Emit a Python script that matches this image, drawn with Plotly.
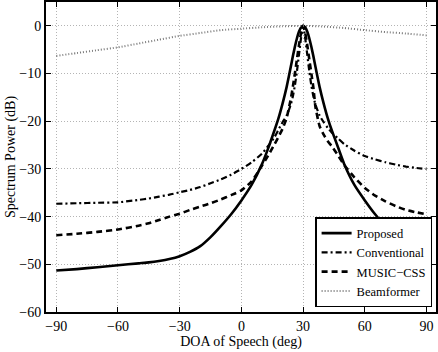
import plotly.graph_objects as go

# DOA grid (deg) for the three spectra
doa = [-90, -80, -70, -60, -50, -45, -40, -35, -30, -25, -20, -15, -10, -5, 0, 5, 10, 13, 16,
       18, 20, 22, 24, 25, 26, 27, 28, 29, 30, 31, 32, 33, 34, 35, 36, 38, 40, 42, 44, 47, 50,
       55, 60, 65, 70, 75, 80, 85, 90]

proposed = [-51.3, -51.0, -50.6, -50.2, -49.8, -49.6, -49.3, -48.9, -48.3, -47.4, -46.2, -44.3,
            -42.0, -39.5, -36.6, -33.3, -29.0, -25.7, -22.0, -19.4, -16.3, -12.8, -8.6, -6.4,
            -4.4, -2.6, -1.2, -0.3, 0.0, -0.3, -1.2, -2.6, -4.4, -6.4, -8.6, -12.8, -16.3,
            -19.4, -22.0, -25.5, -29.0, -33.4, -36.6, -39.5, -42.0, -44.0, -45.6, -46.9, -48.2]

conventional = [-37.3, -37.2, -37.1, -37.0, -36.5, -36.2, -35.8, -35.4, -34.9, -34.4, -33.8,
                -33.0, -32.2, -31.2, -30.0, -28.6, -26.8, -25.2, -23.4, -21.8, -20.2, -18.8,
                -16.5, -14.8, -12.5, -9.5, -6.0, -2.5, 0.0, -2.5, -6.0, -9.5, -12.5, -14.8,
                -16.5, -18.8, -20.2, -21.4, -22.4, -23.6, -24.8, -26.2, -27.3, -28.0, -28.6,
                -29.1, -29.5, -29.8, -30.0]

music_css = [-43.9, -43.6, -43.2, -42.7, -41.9, -41.4, -40.7, -40.0, -39.4, -38.6, -37.9, -37.2,
             -36.4, -35.5, -34.5, -32.6, -29.3, -27.2, -24.9, -23.3, -21.6, -19.3, -15.3, -12.8,
             -10.0, -7.0, -4.0, -1.5, 0.0, -1.5, -4.0, -7.0, -10.0, -13.0, -17.0, -21.0, -22.8,
             -24.2, -25.3, -27.2, -29.2, -31.8, -34.0, -35.6, -36.8, -37.8, -38.6, -39.1, -39.5]

# Beamformer spectrum (deg, dB)
bf_doa = [-90, -80, -70, -60, -50, -40, -30, -20, -10, 0, 10, 20, 30, 40, 50, 60, 70, 80, 90]
beamformer = [-6.3, -5.7, -5.1, -4.5, -3.7, -2.9, -2.1, -1.5, -0.9, -0.6, -0.3, -0.1, 0.0,
              -0.15, -0.45, -0.9, -1.3, -1.6, -2.0]

x_ticks = [-90, -60, -30, 0, 30, 60, 90]
y_ticks = [0, -10, -20, -30, -40, -50, -60]

FONT = "Liberation Serif, Times New Roman, serif"

fig = go.Figure()
fig.add_trace(go.Scatter(x=doa, y=proposed, mode="lines", name="Proposed",
                         line=dict(color="black", width=2.6, shape="spline", smoothing=0.5)))
fig.add_trace(go.Scatter(x=doa, y=conventional, mode="lines", name="Conventional",
                         line=dict(color="black", width=2.2, dash="6px,3px,2px,3px",
                                   shape="spline", smoothing=0.5)))
fig.add_trace(go.Scatter(x=doa, y=music_css, mode="lines", name="MUSIC\u2212CSS",
                         line=dict(color="black", width=2.6, dash="6px,4px",
                                   shape="spline", smoothing=0.5)))
fig.add_trace(go.Scatter(x=bf_doa, y=beamformer, mode="lines", name="Beamformer",
                         line=dict(color="#7a7a7a", width=2, dash="1px,2px",
                                   shape="spline", smoothing=0.5)))

axis_common = dict(
    showline=True, linecolor="black", linewidth=2, mirror="ticks",
    ticks="inside", ticklen=5, tickwidth=1, tickcolor="black",
    showgrid=True, gridcolor="#b4b4b4", griddash="1px,2px", gridwidth=1,
    zeroline=False, tickfont=dict(family=FONT, size=14, color="black"),
)

fig.update_xaxes(range=[-95, 94.6], tickvals=x_ticks,
                 title=dict(text="DOA of Speech (deg)", font=dict(family=FONT, size=14, color="black"),
                            standoff=2),
                 **axis_common)
fig.update_yaxes(range=[-60, 5], tickvals=y_ticks,
                 title=dict(text="Spectrum Power (dB)", font=dict(family=FONT, size=14, color="black"),
                            standoff=0),
                 **axis_common)

fig.update_layout(
    width=438, height=352,
    margin=dict(l=46, r=0, t=1, b=40),
    plot_bgcolor="white", paper_bgcolor="white",
    font=dict(family=FONT, size=14, color="black"),
    legend=dict(x=0.99, y=0.016, xanchor="right", yanchor="bottom",
                bgcolor="white", bordercolor="black", borderwidth=1.5,
                font=dict(family=FONT, size=12.5, color="black"),
                tracegroupgap=0),
    showlegend=True,
)

fig.write_html("out.html")
